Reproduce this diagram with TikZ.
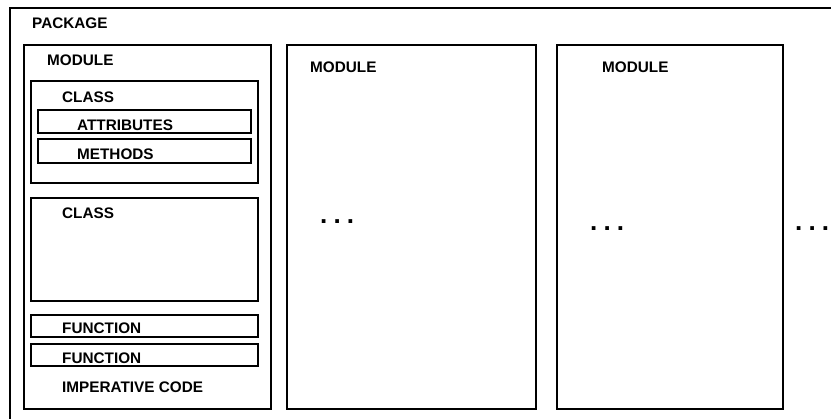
\documentclass[tikz,border=0pt]{standalone}
\usepackage{fontspec}
\setmainfont{Liberation Sans}
\newcommand{\mydots}{.\hspace{6.1pt}.\hspace{6.1pt}.}
\begin{document}
\begin{tikzpicture}[x=1pt,y=-1pt,
  box/.style={draw=black,line width=1.6pt,rectangle,inner sep=0pt,outer sep=0pt,anchor=north west},
  lbl/.style={font=\fontsize{15.3}{17}\selectfont\bfseries,inner sep=0pt,anchor=base west},
  dots/.style={font=\fontsize{26}{28}\selectfont\bfseries,inner sep=0pt,anchor=base west}]
\useasboundingbox (0,0) rectangle (831,419);
\clip (0,0) rectangle (831,419);
\fill[white] (0,0) rectangle (831,419);
% package frame (cropped at right and bottom)
\node[box,line width=1.8pt,minimum width=840pt,minimum height=430pt] (pkg) at (10,8) {};
\node[lbl] (tpkg) at (32,28.5) {PACKAGE};
% modules
\node[box,minimum width=247pt,minimum height=364pt] (m1) at (24,45) {};
\node[box,minimum width=249pt,minimum height=364pt] (m2) at (287,45) {};
\node[box,minimum width=226pt,minimum height=364pt] (m3) at (557,45) {};
\node[lbl] (tm1) at (47,65.5) {MODULE};
\node[lbl] (tm2) at (310,72.5) {MODULE};
\node[lbl] (tm3) at (602,72.5) {MODULE};
% class 1
\node[box,minimum width=227pt,minimum height=102pt] (c1) at (31,81) {};
\node[lbl] (tc1) at (62,102.5) {CLASS};
\node[box,minimum width=213pt,minimum height=23pt] (attr) at (38,110) {};
\node[lbl] (tattr) at (77,130.5) {ATTRIBUTES};
\node[box,minimum width=213pt,minimum height=24pt] (meth) at (38,139) {};
\node[lbl] (tmeth) at (77,159.5) {METHODS};
% class 2
\node[box,minimum width=227pt,minimum height=103pt] (c2) at (31,198) {};
\node[lbl] (tc2) at (62,218.5) {CLASS};
% functions
\node[box,minimum width=227pt,minimum height=22pt] (f1) at (31,315) {};
\node[lbl] (tf1) at (62,333.5) {FUNCTION};
\node[box,minimum width=227pt,minimum height=22pt] (f2) at (31,344) {};
\node[lbl] (tf2) at (62,363.5) {FUNCTION};
\node[lbl] (timp) at (62,392.5) {IMPERATIVE CODE};
% ellipses
\node[dots] (d2) at (320,224) {\mydots};
\node[dots] (d3) at (590,231) {\mydots};
\node[dots] (d4) at (795,231) {\mydots};
\end{tikzpicture}
\end{document}
